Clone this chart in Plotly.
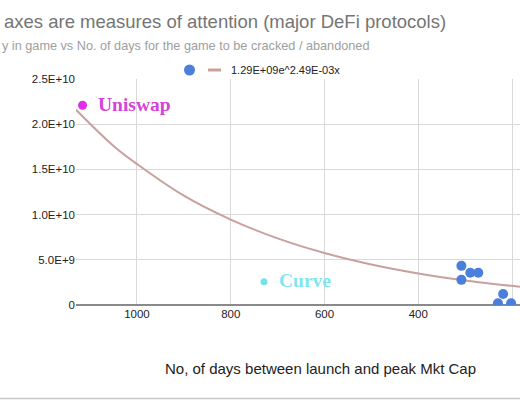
import plotly.graph_objects as go

# days between launch and peak market cap vs peak market cap
days = [1116, 729, 308, 308, 289, 272, 219, 230, 202]
mcap = [22.1e9, 2.56e9, 4.33e9, 2.78e9, 3.56e9, 3.56e9, 1.22e9, 0.2e9, 0.2e9]
names = ["Uniswap", "Curve", "", "", "", "", "", "", ""]

# trendline (1.29E+09e^2.49E-03x)
trend_x = [1130, 1050, 1000, 900, 800, 700, 600, 500, 400, 300, 200, 183]
trend_y = [21.6e9, 17.6e9, 15.6e9, 12.1e9, 9.45e9, 7.37e9, 5.75e9, 4.48e9,
           3.49e9, 2.72e9, 2.12e9, 2.03e9]

y_ticks = [0, 5e9, 1e10, 1.5e10, 2e10, 2.5e10]
y_labels = ["0", "5.0E+9", "1.0E+10", "1.5E+10", "2.0E+10", "2.5E+10"]
x_ticks = [1000, 800, 600, 400, 200]

label_colors = {"Uniswap": "#d444d8", "Curve": "#7fe6ee"}
dot_colors = {"Uniswap": "#e02ee6", "Curve": "#72e2ec"}
dot_sizes = {"Uniswap": 9, "Curve": 7}

fig = go.Figure()

fig.add_trace(go.Scatter(
    x=trend_x, y=trend_y, mode="lines", line_shape="spline",
    line=dict(color="#c9a09d", width=2), showlegend=False,
))

fig.add_trace(go.Scatter(
    x=days, y=mcap, mode="markers",
    marker=dict(
        color=[dot_colors.get(n, "#4a7fdc") for n in names],
        size=[dot_sizes.get(n, 10) for n in names],
        opacity=1, line=dict(width=0),
    ),
    showlegend=False,
))

for d, m, n in zip(days, mcap, names):
    if n:
        fig.add_annotation(
            x=d, y=m, text="<b>" + n + "</b>", showarrow=False,
            xanchor="left", xshift=13, yshift=1,
            font=dict(family="Liberation Serif", size=19.5, color=label_colors[n]),
        )

# legend drawn by hand
W, L, T, B = 520, 76, 79, 305


def px(x):
    return (x - L) / (W - L)


def py(y):
    return (B - y) / (B - T)


fig.add_shape(type="circle", xref="paper", yref="paper",
              x0=px(184), x1=px(195), y0=py(75.5), y1=py(64.5),
              fillcolor="#4a7fdc", line=dict(width=0))
fig.add_shape(type="line", xref="paper", yref="paper",
              x0=px(208), x1=px(221), y0=py(70), y1=py(70),
              line=dict(color="#c9a09d", width=3))
fig.add_annotation(xref="paper", yref="paper", x=px(229), y=py(70),
                   text="1.29E+09e^2.49E-03x", showarrow=False,
                   xanchor="left", yanchor="middle",
                   font=dict(family="Liberation Sans", size=11, color="#222222"))

fig.add_annotation(xref="paper", yref="paper", x=px(320), y=py(368),
                   text="No, of days between launch and peak Mkt Cap", showarrow=False,
                   xanchor="center", yanchor="middle",
                   font=dict(family="Liberation Sans", size=15, color="#222222"))

fig.add_annotation(xref="paper", yref="paper", x=px(2), y=py(22),
                   text="axes are measures of attention (major DeFi protocols)",
                   showarrow=False, xanchor="left", yanchor="middle",
                   font=dict(family="Liberation Sans", size=18.5, color="#757575"))
fig.add_annotation(xref="paper", yref="paper", x=px(0), y=py(46),
                   text="y in game vs No. of days for the game to be cracked / abandoned",
                   showarrow=False, xanchor="left", yanchor="middle",
                   font=dict(family="Liberation Sans", size=12.7, color="#9e9e9e"))

# thin border along the bottom of the picture
fig.add_shape(type="line", xref="paper", yref="paper",
              x0=px(0), x1=px(520), y0=py(398.5), y1=py(398.5),
              line=dict(color="#c8c8c8", width=1.5))

fig.update_xaxes(
    range=[1130, 183], tickvals=x_ticks, showgrid=True, gridcolor="#d9d9d9",
    zeroline=False, showline=False, ticks="",
    tickfont=dict(family="Liberation Sans", size=11.5, color="#222222"),
)
fig.update_yaxes(
    range=[0, 2.5e10], tickvals=y_ticks, ticktext=y_labels, showgrid=True,
    gridcolor="#d9d9d9", zeroline=True, zerolinecolor="#8a8a8a", zerolinewidth=2,
    showline=False, ticks="",
    tickfont=dict(family="Liberation Sans", size=11.5, color="#222222"),
)

fig.update_layout(
    width=520, height=400,
    margin=dict(l=L, r=0, t=T, b=400 - B),
    plot_bgcolor="white", paper_bgcolor="white",
    showlegend=False,
)

fig.write_html("out.html", config={"displayModeBar": False},
               post_script="document.body.style.margin='0';")
